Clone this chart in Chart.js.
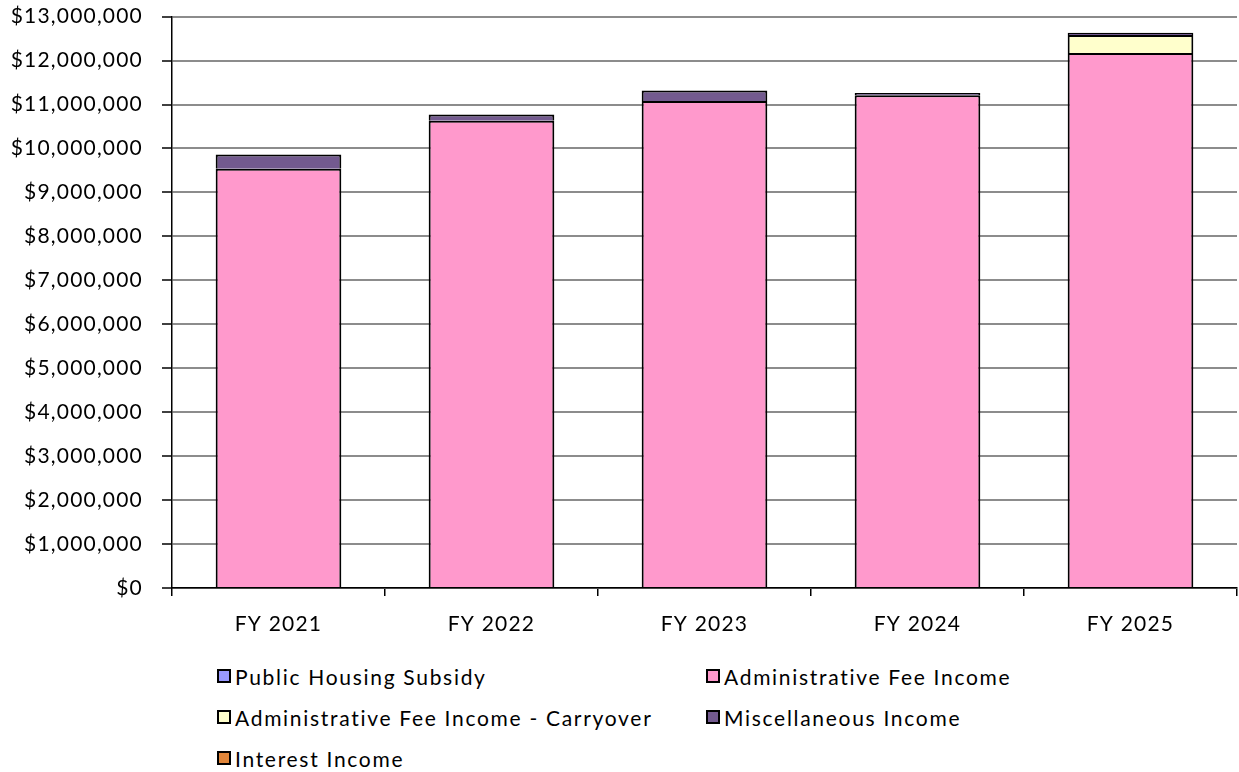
<!DOCTYPE html>
<html>
<head>
<meta charset="utf-8">
<script src="https://cdn.jsdelivr.net/npm/chart.js@4"></script>
<style>
    body { margin: 0; background: #fff; }
    #wrap { position: relative; width: 1239px; height: 772px; overflow: hidden; font-family: Lato, "Open Sans", sans-serif; }
    #chart-box { position: absolute; left: 0; top: -15px; width: 1239px; height: 655px; }
    #legend { position: absolute; left: 217px; top: 660px; display: grid; grid-template-columns: 489px auto; row-gap: 9px; font-size: 21px; letter-spacing: 1.7px; color: #000; }
    .item { display: flex; align-items: center; height: 32px; }
    .box { width: 10px; height: 10px; border: 2px solid #000; margin-right: 4px; }
</style>
</head>
<body>
<div id="wrap">
    <div id="chart-box"><canvas id="chart"></canvas></div>
    <div id="legend"></div>
</div>
<script>
const years = ['FY 2021', 'FY 2022', 'FY 2023', 'FY 2024', 'FY 2025'];
const publicHousing = [0, 0, 0, 0, 0];
const adminFee = [9540000, 10630000, 11080000, 11210000, 12170000];
const adminCarryover = [0, 0, 0, 0, 410000];
const miscIncome = [320000, 140000, 240000, 50000, 50000];
const interestIncome = [0, 0, 0, 0, 0];

const seriesNames = ['Public Housing Subsidy', 'Administrative Fee Income', 'Administrative Fee Income - Carryover', 'Miscellaneous Income', 'Interest Income'];
const seriesColors = ['#9999ff', '#ff99cc', '#ffffcc', '#735a8f', '#e0853a'];
const seriesData = [publicHousing, adminFee, adminCarryover, miscIncome, interestIncome];

const datasets = seriesData.map(function (values, i) {
    return {
        label: seriesNames[i],
        data: values,
        backgroundColor: seriesColors[i],
        borderColor: '#000',
        borderWidth: 2,
        categoryPercentage: 1,
        barPercentage: 0.59
    };
});

// Two-column legend under the plot
const legend = document.getElementById('legend');
seriesNames.forEach(function (name, i) {
    const item = document.createElement('div');
    item.className = 'item';
    item.innerHTML = '<span class="box" style="background:' + seriesColors[i] + '"></span>' + name;
    legend.appendChild(item);
});

// Slightly spaced-out axis text
const spacing = {
    id: 'spacing',
    beforeDraw: function (chart) { chart.ctx.letterSpacing = '1.2px'; }
};

new Chart(document.getElementById('chart'), {
    type: 'bar',
    data: { labels: years, datasets: datasets },
    plugins: [spacing],
    options: {
        responsive: true,
        maintainAspectRatio: false,
        animation: false,
        layout: { padding: { top: 8, right: 2 } },
        plugins: {
            legend: { display: false },
            tooltip: { enabled: false }
        },
        scales: {
            x: {
                stacked: true,
                grid: { display: true, drawOnChartArea: false, color: '#000', tickLength: 8, lineWidth: 1.5 },
                border: { color: '#000', width: 1.5 },
                ticks: { color: '#000', padding: 16, font: { family: 'Lato', size: 21 } },
                afterFit: function (scale) { scale.height = 52; }
            },
            y: {
                stacked: true,
                min: 0,
                max: 13000000,
                grid: { color: '#8c8c8c', lineWidth: 2, tickLength: 10, tickColor: '#000', tickWidth: 1.5 },
                border: { color: '#000', width: 1.5 },
                ticks: {
                    stepSize: 1000000,
                    color: '#000',
                    padding: 19,
                    font: { family: 'Lato', size: 21 },
                    callback: function (value) { return '$' + value.toLocaleString('en-US'); }
                },
                afterFit: function (scale) { scale.width = 172; }
            }
        }
    }
});
</script>
</body>
</html>
